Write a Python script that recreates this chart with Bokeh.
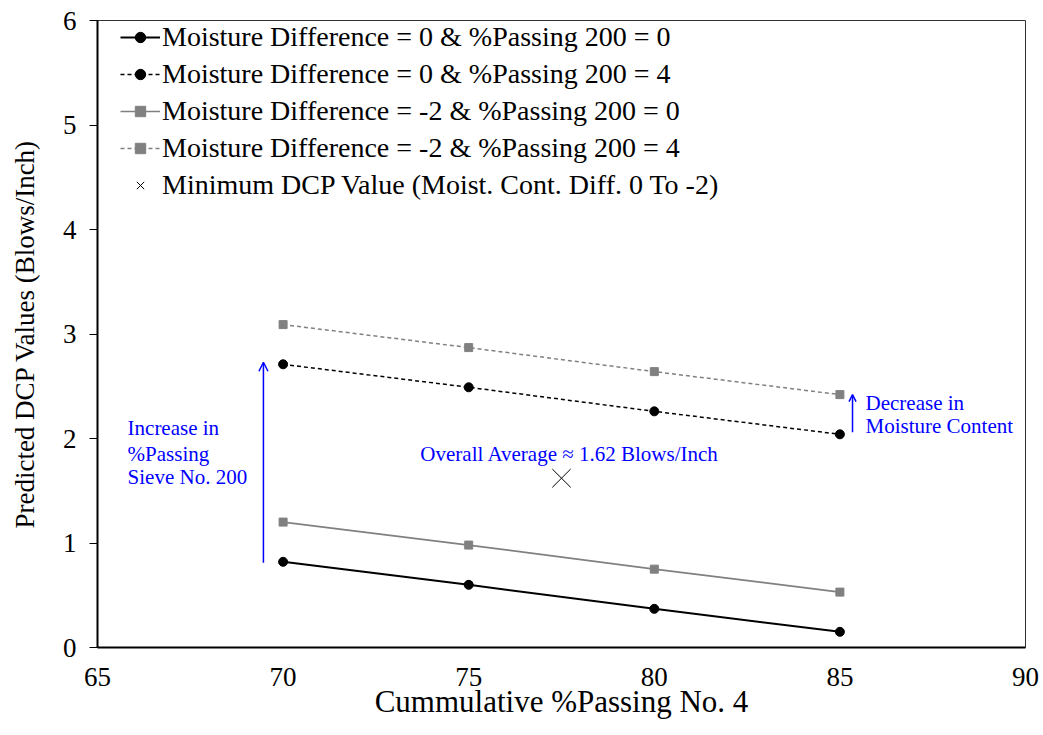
from bokeh.plotting import figure
from bokeh.models import (Legend, LegendItem, Label, Arrow, OpenHead, Range1d,
                          FixedTicker)
from bokeh.embed import file_html
from bokeh.resources import INLINE

# ---------------- data ----------------
passing_no4 = [70, 75, 80, 85]
md0_p200_0 = [0.82, 0.60, 0.37, 0.15]
md0_p200_4 = [2.71, 2.49, 2.26, 2.04]
mdm2_p200_0 = [1.20, 0.98, 0.75, 0.53]
mdm2_p200_4 = [3.09, 2.87, 2.64, 2.42]
min_dcp_x = [77.5]
min_dcp_y = [1.62]

series_labels = [
    "Moisture Difference = 0 & %Passing 200 = 0",
    "Moisture Difference = 0 & %Passing 200 = 4",
    "Moisture Difference = -2 & %Passing 200 = 0",
    "Moisture Difference = -2 & %Passing 200 = 4",
    "Minimum DCP Value (Moist. Cont. Diff. 0 To -2)",
]
x_ticks = [65, 70, 75, 80, 85, 90]
y_ticks = [0, 1, 2, 3, 4, 5, 6]

# annotation texts
increase_lines = ["Increase in", "%Passing", "Sieve No. 200"]
decrease_lines = ["Decrease in", "Moisture Content"]
average_text = "Overall Average \u2248 1.62 Blows/Inch"

FONT = "Liberation Serif"
BLUE = "#0000FF"
GRAY = "#808080"

p = figure(width=1041, height=733, x_range=Range1d(65, 90), y_range=Range1d(0, 6),
           output_backend="svg", toolbar_location=None,
           min_border_left=97, min_border_right=16, min_border_top=20,
           min_border_bottom=86)
p.grid.visible = False
p.outline_line_color = "#333333"
p.outline_line_width = 1
p.background_fill_color = "white"
p.border_fill_color = "white"

# series
l1 = p.line(passing_no4, md0_p200_0, line_color="black", line_width=2)
s1 = p.scatter(passing_no4, md0_p200_0, marker="circle", size=9, color="black")
l2 = p.line(passing_no4, md0_p200_4, line_color="black", line_width=1.5, line_dash="4 3")
s2 = p.scatter(passing_no4, md0_p200_4, marker="circle", size=9, color="black")
l3 = p.line(passing_no4, mdm2_p200_0, line_color=GRAY, line_width=1.7)
s3 = p.scatter(passing_no4, mdm2_p200_0, marker="square", size=8, color=GRAY)
l4 = p.line(passing_no4, mdm2_p200_4, line_color=GRAY, line_width=1.5, line_dash="4 3")
s4 = p.scatter(passing_no4, mdm2_p200_4, marker="square", size=8, color=GRAY)
s5 = p.scatter(min_dcp_x, min_dcp_y, marker="x", size=26, line_color="black", line_width=1)

legend = Legend(items=[
    LegendItem(label=series_labels[0], renderers=[l1, s1]),
    LegendItem(label=series_labels[1], renderers=[l2, s2]),
    LegendItem(label=series_labels[2], renderers=[l3, s3]),
    LegendItem(label=series_labels[3], renderers=[l4, s4]),
    LegendItem(label=series_labels[4], renderers=[s5]),
], location=(23, 446))
legend.label_text_font = FONT
legend.label_text_font_size = "28px"
legend.label_text_color = "black"
legend.glyph_width = 40
legend.glyph_height = 26
legend.label_height = 32
legend.label_standoff = 2
legend.spacing = 5
legend.padding = 0
legend.margin = 0
legend.border_line_color = None
legend.background_fill_alpha = 0
p.add_layout(legend)

# axes
for ax in (p.xaxis, p.yaxis):
    ax.major_label_text_font = FONT
    ax.major_label_text_font_size = "27px"
    ax.major_label_text_color = "black"
    ax.axis_label_text_font = FONT
    ax.axis_label_text_font_style = "normal"
    ax.axis_label_text_color = "black"
    ax.axis_line_color = "black"
    ax.axis_line_width = 2
    ax.minor_tick_line_color = None
    ax.major_tick_in = 0

p.xaxis.ticker = FixedTicker(ticks=x_ticks)
p.yaxis.ticker = FixedTicker(ticks=y_ticks)
p.xaxis.major_tick_out = 0
p.xaxis.major_tick_line_color = None
p.xaxis.major_label_standoff = 20
p.xaxis.axis_label = "Cummulative %Passing No. 4"
p.xaxis.axis_label_text_font_size = "31px"
p.xaxis.axis_label_standoff = -5
p.yaxis.major_tick_out = 8
p.yaxis.major_tick_line_color = "black"
p.yaxis.major_tick_line_width = 1
p.yaxis.major_label_standoff = 13
p.yaxis.axis_label = "Predicted DCP Values (Blows/Inch)"
p.yaxis.axis_label_text_font_size = "27px"
p.yaxis.axis_label_standoff = 20

# annotations
p.add_layout(Arrow(end=OpenHead(size=9, line_color=BLUE, line_width=1.5),
                   x_start=69.47, y_start=0.81, x_end=69.47, y_end=2.73,
                   line_color=BLUE, line_width=1.5))
p.add_layout(Arrow(end=OpenHead(size=7, line_color=BLUE, line_width=1.5),
                   x_start=85.34, y_start=2.06, x_end=85.34, y_end=2.42,
                   line_color=BLUE, line_width=1.5))

for txt, yy in zip(increase_lines, [2.096, 1.856, 1.627]):
    p.add_layout(Label(x=65.81, y=yy, text=txt, text_font=FONT, text_font_size="21px",
                       text_color=BLUE, text_baseline="middle", text_align="left"))
for txt, yy in zip(decrease_lines, [2.344, 2.124]):
    p.add_layout(Label(x=85.69, y=yy, text=txt, text_font=FONT, text_font_size="21px",
                       text_color=BLUE, text_baseline="middle", text_align="left"))
p.add_layout(Label(x=77.72, y=1.856, text=average_text, text_font=FONT,
                   text_font_size="21px", text_color=BLUE, text_baseline="middle",
                   text_align="center"))

open("out.html", "w").write(file_html(p, INLINE))
